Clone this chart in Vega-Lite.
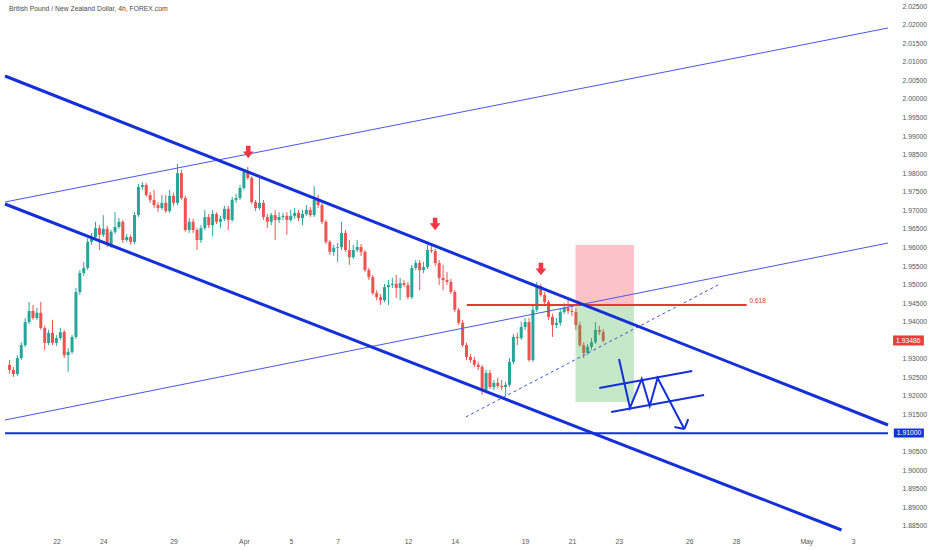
{
  "$schema": "https://vega.github.io/schema/vega-lite/v6.json",
  "description": "GBP/NZD 4h candles with hand-drawn channel, fib level and trade zones.",
  "width": 893,
  "height": 530,
  "autosize": "none",
  "padding": {"left": 0, "top": 0, "right": 39, "bottom": 20},
  "background": "#ffffff",
  "config": {
    "view": {"stroke": null},
    "axis": {
      "labelFont": "Liberation Sans",
      "labelFontSize": 6.8,
      "labelColor": "#555555",
      "labelOverlap": false,
      "labelFlush": false,
      "grid": false,
      "ticks": false,
      "domain": false,
      "title": null
    },
    "text": {"font": "Liberation Sans"}
  },
  "datasets": {
    "candles": [
      {"b": -12, "o": 1.9284, "h": 1.9297, "l": 1.9262, "c": 1.9270},
      {"b": -11, "o": 1.9270, "h": 1.9278, "l": 1.9251, "c": 1.9259},
      {"b": -10, "o": 1.9259, "h": 1.9310, "l": 1.9254, "c": 1.9302},
      {"b": -9, "o": 1.9302, "h": 1.9345, "l": 1.9297, "c": 1.9337},
      {"b": -8, "o": 1.9337, "h": 1.9410, "l": 1.9332, "c": 1.9399},
      {"b": -7, "o": 1.9399, "h": 1.9453, "l": 1.9394, "c": 1.9429},
      {"b": -6, "o": 1.9429, "h": 1.9445, "l": 1.9405, "c": 1.9410},
      {"b": -5, "o": 1.9410, "h": 1.9437, "l": 1.9405, "c": 1.9424},
      {"b": -4, "o": 1.9424, "h": 1.9453, "l": 1.9378, "c": 1.9383},
      {"b": -3, "o": 1.9383, "h": 1.9389, "l": 1.9324, "c": 1.9343},
      {"b": -2, "o": 1.9343, "h": 1.9378, "l": 1.9337, "c": 1.9370},
      {"b": -1, "o": 1.9370, "h": 1.9405, "l": 1.9337, "c": 1.9343},
      {"b": 0, "o": 1.9343, "h": 1.9364, "l": 1.9335, "c": 1.9356},
      {"b": 1, "o": 1.9356, "h": 1.9383, "l": 1.9351, "c": 1.9372},
      {"b": 2, "o": 1.9372, "h": 1.9378, "l": 1.9302, "c": 1.9310},
      {"b": 3, "o": 1.9310, "h": 1.9329, "l": 1.9265, "c": 1.9319},
      {"b": 4, "o": 1.9319, "h": 1.9364, "l": 1.9313, "c": 1.9359},
      {"b": 5, "o": 1.9359, "h": 1.9491, "l": 1.9354, "c": 1.9480},
      {"b": 6, "o": 1.9480, "h": 1.9539, "l": 1.9472, "c": 1.9531},
      {"b": 7, "o": 1.9531, "h": 1.9561, "l": 1.9523, "c": 1.9545},
      {"b": 8, "o": 1.9545, "h": 1.9625, "l": 1.9539, "c": 1.9615},
      {"b": 9, "o": 1.9615, "h": 1.9639, "l": 1.9607, "c": 1.9628},
      {"b": 10, "o": 1.9628, "h": 1.9669, "l": 1.9620, "c": 1.9652},
      {"b": 11, "o": 1.9652, "h": 1.9660, "l": 1.9593, "c": 1.9634},
      {"b": 12, "o": 1.9634, "h": 1.9687, "l": 1.9628, "c": 1.9650},
      {"b": 13, "o": 1.9650, "h": 1.9658, "l": 1.9601, "c": 1.9607},
      {"b": 14, "o": 1.9607, "h": 1.9647, "l": 1.9599, "c": 1.9642},
      {"b": 15, "o": 1.9642, "h": 1.9695, "l": 1.9636, "c": 1.9655},
      {"b": 16, "o": 1.9655, "h": 1.9679, "l": 1.9650, "c": 1.9669},
      {"b": 17, "o": 1.9669, "h": 1.9674, "l": 1.9612, "c": 1.9620},
      {"b": 18, "o": 1.9620, "h": 1.9636, "l": 1.9615, "c": 1.9628},
      {"b": 19, "o": 1.9628, "h": 1.9634, "l": 1.9607, "c": 1.9615},
      {"b": 20, "o": 1.9615, "h": 1.9695, "l": 1.9609, "c": 1.9687},
      {"b": 21, "o": 1.9687, "h": 1.9771, "l": 1.9682, "c": 1.9763},
      {"b": 22, "o": 1.9763, "h": 1.9776, "l": 1.9755, "c": 1.9768},
      {"b": 23, "o": 1.9768, "h": 1.9773, "l": 1.9736, "c": 1.9741},
      {"b": 24, "o": 1.9741, "h": 1.9749, "l": 1.9720, "c": 1.9728},
      {"b": 25, "o": 1.9728, "h": 1.9755, "l": 1.9706, "c": 1.9714},
      {"b": 26, "o": 1.9714, "h": 1.9722, "l": 1.9695, "c": 1.9706},
      {"b": 27, "o": 1.9706, "h": 1.9741, "l": 1.9701, "c": 1.9720},
      {"b": 28, "o": 1.9720, "h": 1.9741, "l": 1.9693, "c": 1.9698},
      {"b": 29, "o": 1.9698, "h": 1.9755, "l": 1.9693, "c": 1.9739},
      {"b": 30, "o": 1.9739, "h": 1.9747, "l": 1.9712, "c": 1.9720},
      {"b": 31, "o": 1.9720, "h": 1.9825, "l": 1.9714, "c": 1.9800},
      {"b": 32, "o": 1.9800, "h": 1.9809, "l": 1.9728, "c": 1.9733},
      {"b": 33, "o": 1.9733, "h": 1.9739, "l": 1.9642, "c": 1.9647},
      {"b": 34, "o": 1.9647, "h": 1.9679, "l": 1.9639, "c": 1.9669},
      {"b": 35, "o": 1.9669, "h": 1.9677, "l": 1.9639, "c": 1.9647},
      {"b": 36, "o": 1.9647, "h": 1.9652, "l": 1.9593, "c": 1.9620},
      {"b": 37, "o": 1.9620, "h": 1.9660, "l": 1.9612, "c": 1.9652},
      {"b": 38, "o": 1.9652, "h": 1.9701, "l": 1.9647, "c": 1.9682},
      {"b": 39, "o": 1.9682, "h": 1.9690, "l": 1.9652, "c": 1.9660},
      {"b": 40, "o": 1.9660, "h": 1.9701, "l": 1.9631, "c": 1.9690},
      {"b": 41, "o": 1.9690, "h": 1.9695, "l": 1.9663, "c": 1.9669},
      {"b": 42, "o": 1.9669, "h": 1.9685, "l": 1.9652, "c": 1.9677},
      {"b": 43, "o": 1.9677, "h": 1.9712, "l": 1.9671, "c": 1.9704},
      {"b": 44, "o": 1.9704, "h": 1.9712, "l": 1.9647, "c": 1.9674},
      {"b": 45, "o": 1.9674, "h": 1.9736, "l": 1.9669, "c": 1.9728},
      {"b": 46, "o": 1.9728, "h": 1.9744, "l": 1.9720, "c": 1.9733},
      {"b": 47, "o": 1.9733, "h": 1.9768, "l": 1.9728, "c": 1.9760},
      {"b": 48, "o": 1.9760, "h": 1.9809, "l": 1.9755, "c": 1.9803},
      {"b": 49, "o": 1.9803, "h": 1.9817, "l": 1.9782, "c": 1.9787},
      {"b": 50, "o": 1.9787, "h": 1.9792, "l": 1.9717, "c": 1.9722},
      {"b": 51, "o": 1.9722, "h": 1.9728, "l": 1.9698, "c": 1.9706},
      {"b": 52, "o": 1.9706, "h": 1.9787, "l": 1.9701, "c": 1.9720},
      {"b": 53, "o": 1.9720, "h": 1.9728, "l": 1.9674, "c": 1.9682},
      {"b": 54, "o": 1.9682, "h": 1.9690, "l": 1.9652, "c": 1.9669},
      {"b": 55, "o": 1.9669, "h": 1.9693, "l": 1.9660, "c": 1.9687},
      {"b": 56, "o": 1.9687, "h": 1.9701, "l": 1.9620, "c": 1.9674},
      {"b": 57, "o": 1.9674, "h": 1.9695, "l": 1.9666, "c": 1.9682},
      {"b": 58, "o": 1.9682, "h": 1.9693, "l": 1.9674, "c": 1.9685},
      {"b": 59, "o": 1.9685, "h": 1.9695, "l": 1.9634, "c": 1.9674},
      {"b": 60, "o": 1.9674, "h": 1.9701, "l": 1.9669, "c": 1.9685},
      {"b": 61, "o": 1.9685, "h": 1.9706, "l": 1.9677, "c": 1.9693},
      {"b": 62, "o": 1.9693, "h": 1.9701, "l": 1.9671, "c": 1.9679},
      {"b": 63, "o": 1.9679, "h": 1.9701, "l": 1.9660, "c": 1.9690},
      {"b": 64, "o": 1.9690, "h": 1.9714, "l": 1.9685, "c": 1.9701},
      {"b": 65, "o": 1.9701, "h": 1.9709, "l": 1.9682, "c": 1.9687},
      {"b": 66, "o": 1.9687, "h": 1.9765, "l": 1.9682, "c": 1.9728},
      {"b": 67, "o": 1.9728, "h": 1.9741, "l": 1.9706, "c": 1.9714},
      {"b": 68, "o": 1.9714, "h": 1.9720, "l": 1.9663, "c": 1.9669},
      {"b": 69, "o": 1.9669, "h": 1.9674, "l": 1.9609, "c": 1.9615},
      {"b": 70, "o": 1.9615, "h": 1.9620, "l": 1.9580, "c": 1.9588},
      {"b": 71, "o": 1.9588, "h": 1.9607, "l": 1.9577, "c": 1.9599},
      {"b": 72, "o": 1.9599, "h": 1.9612, "l": 1.9561, "c": 1.9601},
      {"b": 73, "o": 1.9601, "h": 1.9669, "l": 1.9593, "c": 1.9639},
      {"b": 74, "o": 1.9639, "h": 1.9647, "l": 1.9588, "c": 1.9593},
      {"b": 75, "o": 1.9593, "h": 1.9620, "l": 1.9553, "c": 1.9574},
      {"b": 76, "o": 1.9574, "h": 1.9607, "l": 1.9569, "c": 1.9593},
      {"b": 77, "o": 1.9593, "h": 1.9620, "l": 1.9588, "c": 1.9601},
      {"b": 78, "o": 1.9601, "h": 1.9609, "l": 1.9577, "c": 1.9588},
      {"b": 79, "o": 1.9588, "h": 1.9593, "l": 1.9534, "c": 1.9539},
      {"b": 80, "o": 1.9539, "h": 1.9545, "l": 1.9512, "c": 1.9520},
      {"b": 81, "o": 1.9520, "h": 1.9526, "l": 1.9472, "c": 1.9477},
      {"b": 82, "o": 1.9477, "h": 1.9485, "l": 1.9458, "c": 1.9466},
      {"b": 83, "o": 1.9466, "h": 1.9474, "l": 1.9445, "c": 1.9458},
      {"b": 84, "o": 1.9458, "h": 1.9502, "l": 1.9453, "c": 1.9493},
      {"b": 85, "o": 1.9493, "h": 1.9512, "l": 1.9445, "c": 1.9499},
      {"b": 86, "o": 1.9499, "h": 1.9518, "l": 1.9491, "c": 1.9502},
      {"b": 87, "o": 1.9502, "h": 1.9526, "l": 1.9464, "c": 1.9491},
      {"b": 88, "o": 1.9491, "h": 1.9518, "l": 1.9458, "c": 1.9504},
      {"b": 89, "o": 1.9504, "h": 1.9512, "l": 1.9494, "c": 1.9499},
      {"b": 90, "o": 1.9499, "h": 1.9507, "l": 1.9461, "c": 1.9466},
      {"b": 91, "o": 1.9466, "h": 1.9553, "l": 1.9461, "c": 1.9545},
      {"b": 92, "o": 1.9545, "h": 1.9566, "l": 1.9539, "c": 1.9558},
      {"b": 93, "o": 1.9558, "h": 1.9566, "l": 1.9485, "c": 1.9539},
      {"b": 94, "o": 1.9539, "h": 1.9561, "l": 1.9531, "c": 1.9547},
      {"b": 95, "o": 1.9547, "h": 1.9607, "l": 1.9542, "c": 1.9593},
      {"b": 96, "o": 1.9593, "h": 1.9612, "l": 1.9585, "c": 1.9590},
      {"b": 97, "o": 1.9590, "h": 1.9596, "l": 1.9550, "c": 1.9558},
      {"b": 98, "o": 1.9558, "h": 1.9566, "l": 1.9499, "c": 1.9518},
      {"b": 99, "o": 1.9518, "h": 1.9553, "l": 1.9485, "c": 1.9512},
      {"b": 100, "o": 1.9512, "h": 1.9534, "l": 1.9499, "c": 1.9507},
      {"b": 101, "o": 1.9507, "h": 1.9515, "l": 1.9475, "c": 1.9480},
      {"b": 102, "o": 1.9480, "h": 1.9485, "l": 1.9426, "c": 1.9432},
      {"b": 103, "o": 1.9432, "h": 1.9437, "l": 1.9391, "c": 1.9397},
      {"b": 104, "o": 1.9397, "h": 1.9405, "l": 1.9332, "c": 1.9337},
      {"b": 105, "o": 1.9337, "h": 1.9343, "l": 1.9297, "c": 1.9305},
      {"b": 106, "o": 1.9305, "h": 1.9313, "l": 1.9289, "c": 1.9297},
      {"b": 107, "o": 1.9297, "h": 1.9305, "l": 1.9278, "c": 1.9284},
      {"b": 108, "o": 1.9284, "h": 1.9292, "l": 1.9270, "c": 1.9278},
      {"b": 109, "o": 1.9278, "h": 1.9284, "l": 1.9203, "c": 1.9216},
      {"b": 110, "o": 1.9216, "h": 1.9270, "l": 1.9211, "c": 1.9262},
      {"b": 111, "o": 1.9262, "h": 1.9270, "l": 1.9219, "c": 1.9224},
      {"b": 112, "o": 1.9224, "h": 1.9243, "l": 1.9216, "c": 1.9235},
      {"b": 113, "o": 1.9235, "h": 1.9249, "l": 1.9221, "c": 1.9227},
      {"b": 114, "o": 1.9227, "h": 1.9243, "l": 1.9216, "c": 1.9224},
      {"b": 115, "o": 1.9224, "h": 1.9238, "l": 1.9200, "c": 1.9230},
      {"b": 116, "o": 1.9230, "h": 1.9302, "l": 1.9224, "c": 1.9292},
      {"b": 117, "o": 1.9292, "h": 1.9367, "l": 1.9286, "c": 1.9359},
      {"b": 118, "o": 1.9359, "h": 1.9370, "l": 1.9337, "c": 1.9356},
      {"b": 119, "o": 1.9356, "h": 1.9399, "l": 1.9351, "c": 1.9386},
      {"b": 120, "o": 1.9386, "h": 1.9410, "l": 1.9378, "c": 1.9399},
      {"b": 121, "o": 1.9399, "h": 1.9410, "l": 1.9292, "c": 1.9297},
      {"b": 122, "o": 1.9297, "h": 1.9445, "l": 1.9292, "c": 1.9432},
      {"b": 123, "o": 1.9432, "h": 1.9507, "l": 1.9426, "c": 1.9496},
      {"b": 124, "o": 1.9496, "h": 1.9502, "l": 1.9467, "c": 1.9472},
      {"b": 125, "o": 1.9472, "h": 1.9480, "l": 1.9445, "c": 1.9453},
      {"b": 126, "o": 1.9453, "h": 1.9458, "l": 1.9405, "c": 1.9413},
      {"b": 127, "o": 1.9413, "h": 1.9421, "l": 1.9359, "c": 1.9391},
      {"b": 128, "o": 1.9391, "h": 1.9410, "l": 1.9383, "c": 1.9397},
      {"b": 129, "o": 1.9397, "h": 1.9437, "l": 1.9389, "c": 1.9426},
      {"b": 130, "o": 1.9426, "h": 1.9450, "l": 1.9421, "c": 1.9437},
      {"b": 131, "o": 1.9437, "h": 1.9464, "l": 1.9421, "c": 1.9429},
      {"b": 132, "o": 1.9429, "h": 1.9445, "l": 1.9415, "c": 1.9426},
      {"b": 133, "o": 1.9426, "h": 1.9437, "l": 1.9378, "c": 1.9391},
      {"b": 134, "o": 1.9391, "h": 1.9399, "l": 1.9332, "c": 1.9337},
      {"b": 135, "o": 1.9337, "h": 1.9345, "l": 1.9302, "c": 1.9316},
      {"b": 136, "o": 1.9316, "h": 1.9340, "l": 1.9310, "c": 1.9332},
      {"b": 137, "o": 1.9332, "h": 1.9356, "l": 1.9324, "c": 1.9345},
      {"b": 138, "o": 1.9345, "h": 1.9399, "l": 1.9340, "c": 1.9378},
      {"b": 139, "o": 1.9378, "h": 1.9389, "l": 1.9364, "c": 1.9372},
      {"b": 140, "o": 1.9372, "h": 1.9380, "l": 1.9343, "c": 1.93486}
    ],
    "lines": [
      {"id": "upperChannel", "k": "thick", "s": 0, "b": -13.165, "p": 2.00616},
      {"id": "upperChannel", "k": "thick", "s": 1, "b": 212.91, "p": 1.91219},
      {"id": "lowerChannel", "k": "thick", "s": 0, "b": -13.165, "p": 1.97169},
      {"id": "lowerChannel", "k": "thick", "s": 1, "b": 201.01, "p": 1.88392},
      {"id": "riseTop", "k": "thin", "s": 0, "b": -13.165, "p": 1.97223},
      {"id": "riseTop", "k": "thin", "s": 1, "b": 212.91, "p": 2.01908},
      {"id": "riseLow", "k": "thin", "s": 0, "b": -13.165, "p": 1.91353},
      {"id": "riseLow", "k": "thin", "s": 1, "b": 212.91, "p": 1.96119},
      {"id": "target", "k": "mid", "s": 0, "b": -13.165, "p": 1.91},
      {"id": "target", "k": "mid", "s": 1, "b": 212.91, "p": 1.91},
      {"id": "support", "k": "dash", "s": 0, "b": 104.81, "p": 1.91435},
      {"id": "support", "k": "dash", "s": 1, "b": 169.87, "p": 1.95015},
      {"id": "fib", "k": "red", "s": 0, "b": 105.06, "p": 1.9445},
      {"id": "fib", "k": "red", "s": 1, "b": 176.71, "p": 1.9445},
      {"id": "zigzag", "k": "mid", "s": 0, "b": 144.05, "p": 1.92996},
      {"id": "zigzag", "k": "mid", "s": 1, "b": 146.84, "p": 1.91677},
      {"id": "zigzag", "k": "mid", "s": 2, "b": 149.87, "p": 1.92458},
      {"id": "zigzag", "k": "mid", "s": 3, "b": 151.9, "p": 1.91731},
      {"id": "zigzag", "k": "mid", "s": 4, "b": 153.92, "p": 1.92485},
      {"id": "zigzag", "k": "mid", "s": 5, "b": 160.76, "p": 1.91111},
      {"id": "headLeft", "k": "mid", "s": 0, "b": 158.23, "p": 1.91165},
      {"id": "headLeft", "k": "mid", "s": 1, "b": 160.76, "p": 1.91111},
      {"id": "headRight", "k": "mid", "s": 0, "b": 161.77, "p": 1.9138},
      {"id": "headRight", "k": "mid", "s": 1, "b": 160.76, "p": 1.91111},
      {"id": "flagTop", "k": "mid", "s": 0, "b": 138.99, "p": 1.92215},
      {"id": "flagTop", "k": "mid", "s": 1, "b": 162.78, "p": 1.92673},
      {"id": "flagLow", "k": "mid", "s": 0, "b": 142.03, "p": 1.91569},
      {"id": "flagLow", "k": "mid", "s": 1, "b": 165.82, "p": 1.92027}
    ],
    "zones": [
      {"side": "stop", "b": 132.91, "b2": 147.85, "p": 1.96065, "p2": 1.9445},
      {"side": "target", "b": 132.91, "b2": 147.85, "p": 1.9445, "p2": 1.91838}
    ],
    "arrows": [
      {"b": 49.11, "p": 1.98569},
      {"b": 96.96, "p": 1.96631},
      {"b": 124.05, "p": 1.95419}
    ],
    "notes": [
      {"kind": "title", "b": -12.15, "p": 2.0242, "label": "British Pound / New Zealand Dollar, 4h, FOREX.com"},
      {"kind": "fib", "b": 177.47, "p": 1.94558, "label": "0.618"}
    ],
    "tags": [
      {"kind": "price", "b": 214.2, "b2": 222.1, "p": 1.9363, "p2": 1.9336, "v": 1.93486, "label": "1.93486"},
      {"kind": "level", "b": 214.4, "b2": 222.1, "p": 1.91124, "p2": 1.90882, "v": 1.91, "label": "1.91000"}
    ]
  },
  "layer": [
    {
      "data": {"name": "candles"},
      "mark": {"type": "rule", "strokeWidth": 1},
      "encoding": {
        "x": {
          "field": "b",
          "type": "quantitative",
          "scale": {"domain": [-13.165, 212.91], "nice": false, "zero": false},
          "axis": {
            "values": [0, 12, 30, 48, 60, 72, 90, 102, 120, 132, 144, 162, 174, 192, 204],
            "tickCount": 60,
            "labelExpr": "['22','24','29','Apr','5','7','12','14','19','21','23','26','28','May','3'][indexof([0,12,30,48,60,72,90,102,120,132,144,162,174,192,204], datum.value)]",
            "labelPadding": 8
          }
        },
        "y": {
          "field": "l",
          "type": "quantitative",
          "scale": {"domain": [1.88392, 2.02662], "nice": false, "zero": false},
          "axis": {
            "orient": "right",
            "format": ".5f",
            "values": [1.885, 1.89, 1.895, 1.9, 1.905, 1.915, 1.92, 1.925, 1.93, 1.94, 1.945, 1.95, 1.955, 1.96, 1.965, 1.97, 1.975, 1.98, 1.985, 1.99, 1.995, 2.0, 2.005, 2.01, 2.015, 2.02, 2.025],
            "tickCount": 60,
            "labelPadding": 9
          }
        },
        "y2": {"field": "h"},
        "color": {"condition": {"test": "datum.c < datum.o", "value": "#ef5350"}, "value": "#26a69a"}
      }
    },
    {
      "data": {"name": "candles"},
      "mark": {"type": "bar", "size": 3},
      "encoding": {
        "x": {"field": "b", "type": "quantitative", "scale": {"domain": [-13.165, 212.91], "nice": false, "zero": false}},
        "y": {"field": "o", "type": "quantitative", "scale": {"domain": [1.88392, 2.02662], "nice": false, "zero": false}},
        "y2": {"field": "c"},
        "color": {"condition": {"test": "datum.c < datum.o", "value": "#ef5350"}, "value": "#26a69a"}
      }
    },
    {
      "data": {"name": "zones"},
      "transform": [{"filter": "datum.side == 'stop'"}],
      "mark": {"type": "rect", "opacity": 0.3, "color": "#f23645"},
      "encoding": {
        "x": {"field": "b", "type": "quantitative", "scale": {"domain": [-13.165, 212.91], "nice": false, "zero": false}},
        "x2": {"field": "b2"},
        "y": {"field": "p", "type": "quantitative", "scale": {"domain": [1.88392, 2.02662], "nice": false, "zero": false}},
        "y2": {"field": "p2"}
      }
    },
    {
      "data": {"name": "zones"},
      "transform": [{"filter": "datum.side == 'target'"}],
      "mark": {"type": "rect", "opacity": 0.3, "color": "#43b049"},
      "encoding": {
        "x": {"field": "b", "type": "quantitative", "scale": {"domain": [-13.165, 212.91], "nice": false, "zero": false}},
        "x2": {"field": "b2"},
        "y": {"field": "p", "type": "quantitative", "scale": {"domain": [1.88392, 2.02662], "nice": false, "zero": false}},
        "y2": {"field": "p2"}
      }
    },
    {
      "data": {"name": "lines"},
      "transform": [{"filter": "datum.k == 'thin'"}],
      "mark": {"type": "line", "strokeWidth": 1, "color": "#4a58e6"},
      "encoding": {
        "x": {"field": "b", "type": "quantitative", "scale": {"domain": [-13.165, 212.91], "nice": false, "zero": false}},
        "y": {"field": "p", "type": "quantitative", "scale": {"domain": [1.88392, 2.02662], "nice": false, "zero": false}},
        "detail": {"field": "id"},
        "order": {"field": "s"}
      }
    },
    {
      "data": {"name": "lines"},
      "transform": [{"filter": "datum.k == 'dash'"}],
      "mark": {"type": "line", "strokeWidth": 1, "color": "#3f50e2", "strokeDash": [3, 3]},
      "encoding": {
        "x": {"field": "b", "type": "quantitative", "scale": {"domain": [-13.165, 212.91], "nice": false, "zero": false}},
        "y": {"field": "p", "type": "quantitative", "scale": {"domain": [1.88392, 2.02662], "nice": false, "zero": false}},
        "detail": {"field": "id"},
        "order": {"field": "s"}
      }
    },
    {
      "data": {"name": "lines"},
      "transform": [{"filter": "datum.k == 'red'"}],
      "mark": {"type": "line", "strokeWidth": 2, "color": "#e53935"},
      "encoding": {
        "x": {"field": "b", "type": "quantitative", "scale": {"domain": [-13.165, 212.91], "nice": false, "zero": false}},
        "y": {"field": "p", "type": "quantitative", "scale": {"domain": [1.88392, 2.02662], "nice": false, "zero": false}},
        "detail": {"field": "id"},
        "order": {"field": "s"}
      }
    },
    {
      "data": {"name": "lines"},
      "transform": [{"filter": "datum.k == 'mid'"}],
      "mark": {"type": "line", "strokeWidth": 2, "color": "#1530d8"},
      "encoding": {
        "x": {"field": "b", "type": "quantitative", "scale": {"domain": [-13.165, 212.91], "nice": false, "zero": false}},
        "y": {"field": "p", "type": "quantitative", "scale": {"domain": [1.88392, 2.02662], "nice": false, "zero": false}},
        "detail": {"field": "id"},
        "order": {"field": "s"}
      }
    },
    {
      "data": {"name": "lines"},
      "transform": [{"filter": "datum.k == 'thick'"}],
      "mark": {"type": "line", "strokeWidth": 3, "color": "#1530d8"},
      "encoding": {
        "x": {"field": "b", "type": "quantitative", "scale": {"domain": [-13.165, 212.91], "nice": false, "zero": false}},
        "y": {"field": "p", "type": "quantitative", "scale": {"domain": [1.88392, 2.02662], "nice": false, "zero": false}},
        "detail": {"field": "id"},
        "order": {"field": "s"}
      }
    },
    {
      "data": {"name": "arrows"},
      "mark": {
        "type": "point",
        "filled": true,
        "opacity": 1,
        "color": "#f23645",
        "size": 160,
        "shape": "M-0.36,-1L0.36,-1L0.36,-0.1L0.85,-0.1L0,1L-0.85,-0.1L-0.36,-0.1Z"
      },
      "encoding": {
        "x": {"field": "b", "type": "quantitative", "scale": {"domain": [-13.165, 212.91], "nice": false, "zero": false}},
        "y": {"field": "p", "type": "quantitative", "scale": {"domain": [1.88392, 2.02662], "nice": false, "zero": false}}
      }
    },
    {
      "data": {"name": "notes"},
      "transform": [{"filter": "datum.kind == 'title'"}],
      "mark": {"type": "text", "align": "left", "baseline": "middle", "fontSize": 6.8, "color": "#4a4a4a"},
      "encoding": {
        "x": {"field": "b", "type": "quantitative", "scale": {"domain": [-13.165, 212.91], "nice": false, "zero": false}},
        "y": {"field": "p", "type": "quantitative", "scale": {"domain": [1.88392, 2.02662], "nice": false, "zero": false}},
        "text": {"field": "label"}
      }
    },
    {
      "data": {"name": "notes"},
      "transform": [{"filter": "datum.kind == 'fib'"}],
      "mark": {"type": "text", "align": "left", "baseline": "middle", "fontSize": 6.5, "color": "#e53935"},
      "encoding": {
        "x": {"field": "b", "type": "quantitative", "scale": {"domain": [-13.165, 212.91], "nice": false, "zero": false}},
        "y": {"field": "p", "type": "quantitative", "scale": {"domain": [1.88392, 2.02662], "nice": false, "zero": false}},
        "text": {"field": "label"}
      }
    },
    {
      "data": {"name": "tags"},
      "transform": [{"filter": "datum.kind == 'price'"}],
      "mark": {"type": "rect", "color": "#ee3b3b"},
      "encoding": {
        "x": {"field": "b", "type": "quantitative", "scale": {"domain": [-13.165, 212.91], "nice": false, "zero": false}},
        "x2": {"field": "b2"},
        "y": {"field": "p", "type": "quantitative", "scale": {"domain": [1.88392, 2.02662], "nice": false, "zero": false}},
        "y2": {"field": "p2"}
      }
    },
    {
      "data": {"name": "tags"},
      "transform": [{"filter": "datum.kind == 'level'"}],
      "mark": {"type": "rect", "color": "#1433e0"},
      "encoding": {
        "x": {"field": "b", "type": "quantitative", "scale": {"domain": [-13.165, 212.91], "nice": false, "zero": false}},
        "x2": {"field": "b2"},
        "y": {"field": "p", "type": "quantitative", "scale": {"domain": [1.88392, 2.02662], "nice": false, "zero": false}},
        "y2": {"field": "p2"}
      }
    },
    {
      "data": {"name": "tags"},
      "mark": {"type": "text", "align": "left", "baseline": "middle", "fontSize": 6.8, "color": "#ffffff", "dx": 3},
      "encoding": {
        "x": {"field": "b", "type": "quantitative", "scale": {"domain": [-13.165, 212.91], "nice": false, "zero": false}},
        "y": {"field": "v", "type": "quantitative", "scale": {"domain": [1.88392, 2.02662], "nice": false, "zero": false}},
        "text": {"field": "label"}
      }
    }
  ]
}
